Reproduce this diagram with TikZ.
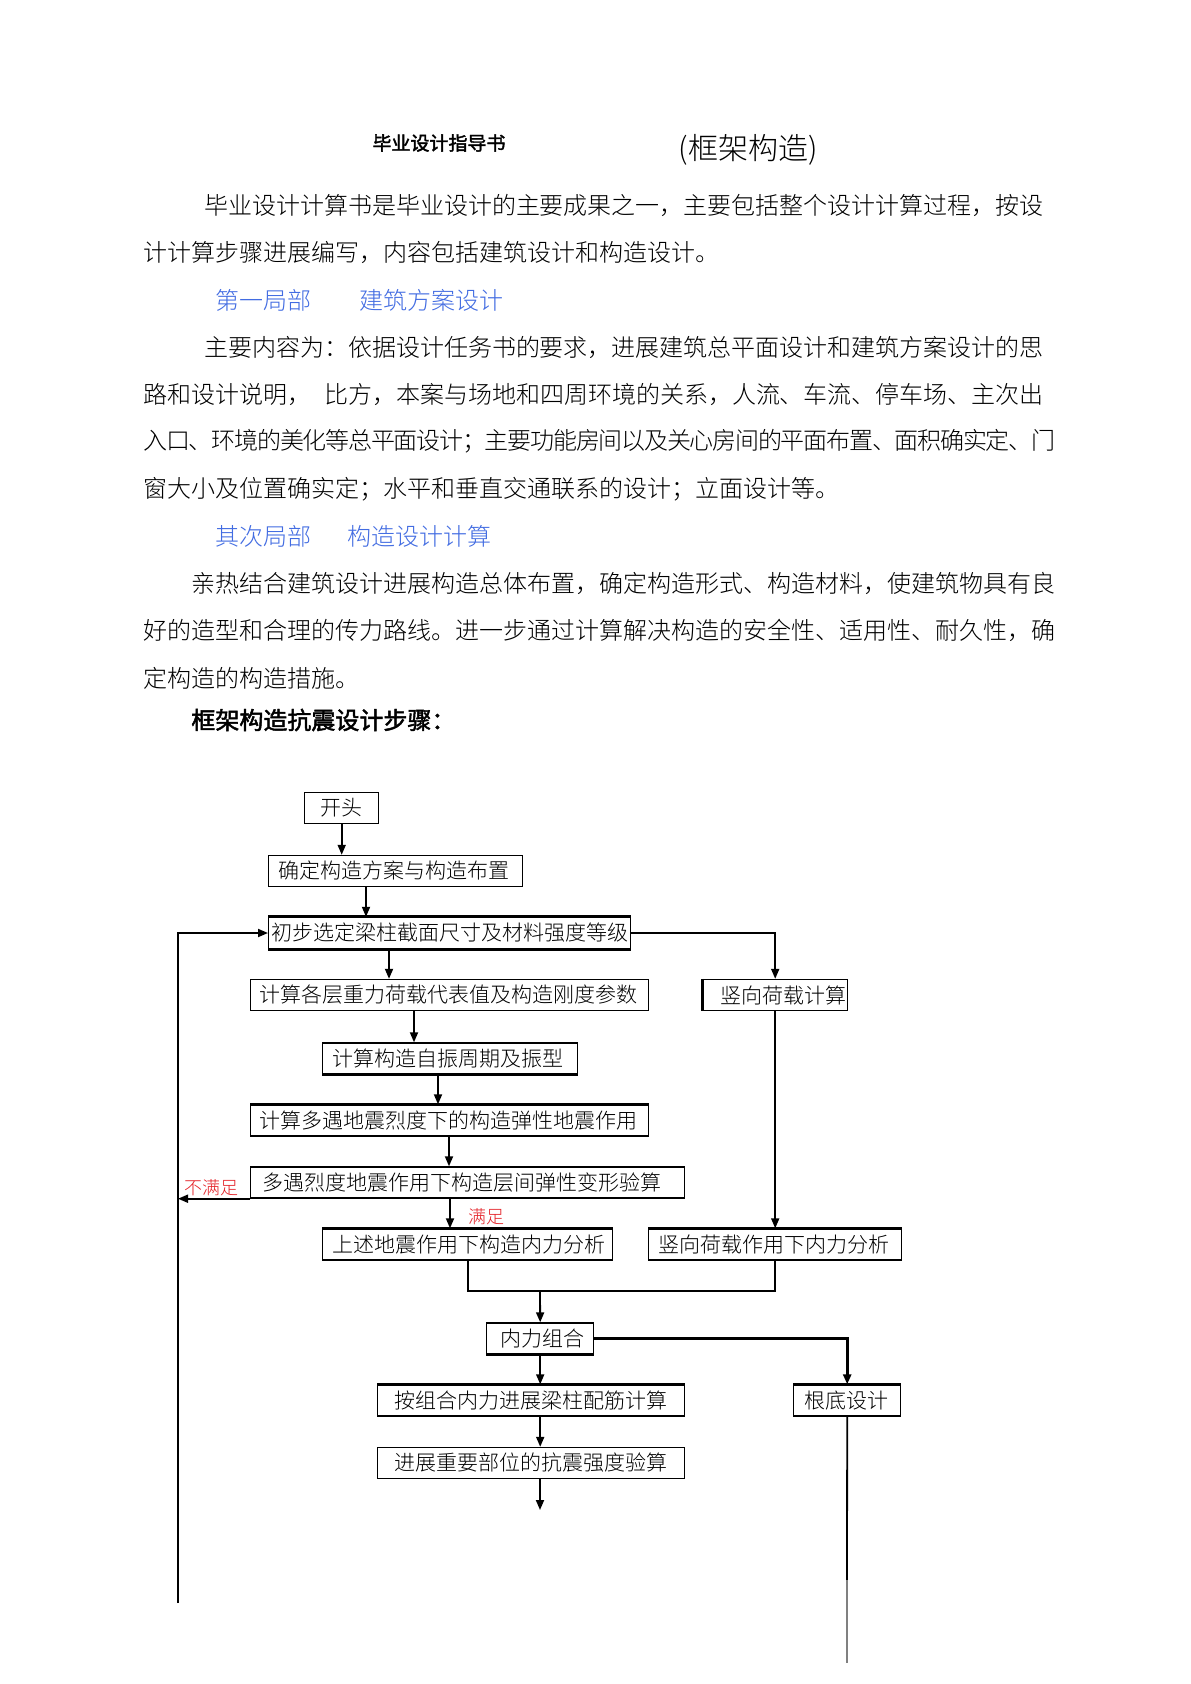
\documentclass[tikz,border=0pt]{standalone}
\usepackage{fontspec}
\IfFontExistsTF{Noto Sans CJK SC Light}
  {\setmainfont{Noto Sans CJK SC Light}[AutoFakeBold=2]}
  {\setmainfont{Noto Sans CJK SC}[AutoFakeBold=2]}
\newfontfamily\boldcjk{Noto Sans CJK SC}[AutoFakeBold=2]
\usetikzlibrary{arrows.meta,positioning}

\definecolor{headblue}{RGB}{66,108,226}
\definecolor{notered}{RGB}{228,30,36}

% one justified line of body text
\makeatletter
\newcommand{\jline}[2]{\makebox[#1][s]{\@tfor\jl@c:=#2\do{\jl@c\hskip 0pt plus 2pt minus 1pt}\unskip}}
\makeatother
\newcommand{\jgap}{\hspace{7pt}}

\tikzset{
  stepbox/.style={draw, line width=0.7pt, anchor=west, inner xsep=0pt, inner ysep=0pt,
    minimum height=15.5pt, align=left, font=\fontsize{10.5}{12}\selectfont},
  textline/.style={anchor=west, inner sep=0pt, font=\fontsize{12}{14}\selectfont},
  flow/.style={line width=0.9pt},
  heavy/.style={line width=1.5pt},
  note/.style={text=notered, inner sep=0pt, font=\fontsize{9}{10}\selectfont},
  >={Triangle[length=5pt,width=4pt]}
}

\begin{document}
\begin{tikzpicture}[x=0.5pt, y=-0.5pt]
    \useasboundingbox[fill=white] (0,0) rectangle (1190,1684);

    % page head
    \node[inner sep=0pt, font=\fontsize{9.5}{11}\selectfont\boldcjk\bfseries] (guide) at (439,143) {毕业设计指导书};
    \node[inner sep=0pt, font=\fontsize{15}{18}\selectfont] (kind) at (748,150) {(框架构造)};

    % text
    \node[textline] (p1a) at (204,205) {\jline{419.5pt}{毕业设计计算书是毕业设计的主要成果之一，主要包括整个设计计算过程，按设}};
    \node[textline] (p1b) at (143,252) {计计算步骤进展编写，内容包括建筑设计和构造设计。};

    \node[textline, text=headblue] (h1a) at (215,300) {第一局部};
    \node[textline, text=headblue] (h1b) at (359,300) {建筑方案设计};

    \node[textline] (p2a) at (204,347) {\jline{419.5pt}{主要内容为：依据设计任务书的要求，进展建筑总平面设计和建筑方案设计的思}};
    \node[textline] (p2b) at (143,394) {\jline{450pt}{路和设计说明，\jgap 比方，本案与场地和四周环境的关系，人流、车流、停车场、主次出}};
    \node[textline] (p2c) at (143,441) {\jline{456pt}{入口、环境的美化等总平面设计；主要功能房间以及关心房间的平面布置、面积确实定、门}};
    \node[textline] (p2d) at (143,489) {窗大小及位置确实定；水平和垂直交通联系的设计；立面设计等。};

    \node[textline, text=headblue] (h2a) at (215,536) {其次局部};
    \node[textline, text=headblue] (h2b) at (347,536) {构造设计计算};

    \node[textline] (p3a) at (191,583) {\jline{432pt}{亲热结合建筑设计进展构造总体布置，确定构造形式、构造材料，使建筑物具有良}};
    \node[textline] (p3b) at (143,630) {\jline{456pt}{好的造型和合理的传力路线。进一步通过计算解决构造的安全性、适用性、耐久性，确}};
    \node[textline] (p3c) at (143,678) {定构造的构造措施。};

    \node[textline, font=\fontsize{12}{14}\selectfont\boldcjk\bfseries] (steps) at (191,720) {框架构造抗震设计步骤：};

    % flow chart
    \node[stepbox, text width=37pt] (start) at (304,808) {\hspace*{8pt}开头};
    \node[stepbox, text width=127pt] (plan) at (268,871) {\hspace*{5pt}确定构造方案与构造布置};
    \node[stepbox, text width=181pt] (init) at (268,933) {\hspace*{1.5pt}初步选定梁柱截面尺寸及材料强度等级};
    \node[stepbox, text width=199pt] (load) at (250,995) {\hspace*{4.5pt}计算各层重力荷载代表值及构造刚度参数};
    \node[stepbox, text width=72.5pt] (vload) at (702,995) {\hspace*{9pt}竖向荷载计算};
    \node[stepbox, text width=127.5pt] (period) at (322,1058.5) {\hspace*{5pt}计算构造自振周期及振型};
    \node[stepbox, text width=199pt] (eq) at (250,1120.5) {\hspace*{4.5pt}计算多遇地震烈度下的构造弹性地震作用};
    \node[stepbox, text width=217pt] (drift) at (250,1182.5) {\hspace*{6pt}多遇烈度地震作用下构造层间弹性变形验算};
    \node[stepbox, text width=145pt] (eqforce) at (322,1244.5) {\hspace*{5pt}上述地震作用下构造内力分析};
    \node[stepbox, text width=126.5pt] (vforce) at (648,1244.5) {\hspace*{5pt}竖向荷载作用下内力分析};
    \node[stepbox, text width=53.5pt] (comb) at (486,1338.5) {\hspace*{7pt}内力组合};
    \node[stepbox, text width=153.5pt] (rebar) at (377,1400.5) {\hspace*{8.5pt}按组合内力进展梁柱配筋计算};
    \node[stepbox, text width=53.5pt] (found) at (793,1400.5) {\hspace*{5.5pt}根底设计};
    \node[stepbox, text width=153.5pt] (check) at (377,1463) {\hspace*{8.5pt}进展重要部位的抗震强度验算};

    \node[note] (fail) at (211,1188) {不满足};
    \node[note] (pass) at (486,1217) {满足};

    \coordinate (loopbot) at (178,1603);
    \coordinate (merge) at (540,1291);
    \coordinate (tail) at (540,1510);
    \coordinate (fgrey) at (847,1580);
    \coordinate (fbot) at (847,1663);

    % heavier box edges
    \draw[heavy] (init.north west) -- (init.north east) (init.south west) -- (init.south east)
      (period.south west) -- (period.south east) (eq.north west) -- (eq.north east)
      (eqforce.north west) -- (eqforce.north east) (vforce.north west) -- (vforce.north east)
      (rebar.north west) -- (rebar.north east) (found.north west) -- (found.north east)
      (comb.south west) -- (comb.south east) (vload.north west) -- (vload.south west);

    \path[flow, ->]
    (start.south) edge (start.south |- plan.north)
    (plan.south -| 366,0) edge (init.north -| 366,0)
    (init.south -| 389,0) edge (load.north -| 389,0)
    (load.south -| 414,0) edge (period.north -| 414,0)
    (period.south -| 438,0) edge (eq.north -| 438,0)
    (eq.south -| 449,0) edge (drift.north -| 449,0)
    (drift.south -| 450,0) edge (eqforce.north -| 450,0)
    (vload.south) edge (vforce.north)
    (merge) edge (comb.north)
    (comb.south) edge (comb.south |- rebar.north)
    (rebar.south -| comb.south) edge (check.north -| comb.south)
    (check.south -| tail) edge (tail)
    (drift.south west) edge (drift.south west -| loopbot)
    ;
    \draw[flow, ->] (init.east) -| (vload.north);
    \draw[flow, ->] (loopbot) |- (init.west);
    \draw[flow] (eqforce.south -| 468,0) |- (merge) -| (vforce.south);
    \draw[heavy, ->] (comb.east) -| (found.north);
    \draw[flow] (found.south) -- (fgrey);
    \draw[line width=0.8pt, gray] (fgrey) -- (fbot);

\end{tikzpicture}
\end{document}
